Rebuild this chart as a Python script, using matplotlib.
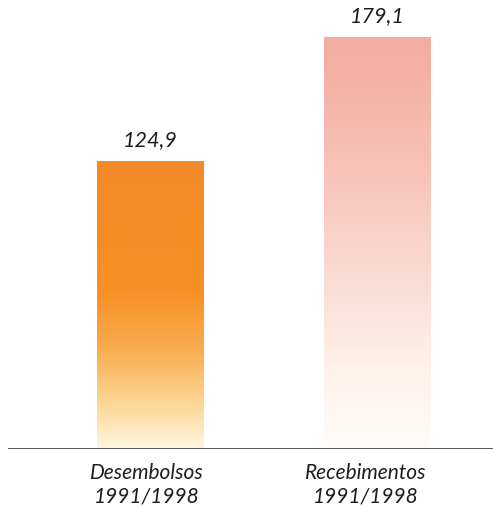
import numpy as np
import matplotlib
matplotlib.use("Agg")
import matplotlib.pyplot as plt
from matplotlib.colors import LinearSegmentedColormap

categories = ["Desembolsos\n1991/1998", "Recebimentos\n1991/1998"]
values = [124.9, 179.1]
value_labels = ["124,9", "179,1"]

# vertical gradient stops (fraction of bar height from the base, colour)
grad_orange = [(0.0, "#FFF6E2"), (0.15, "#FCD898"), (0.35, "#F9AC4E"),
               (0.55, "#F79024"), (1.0, "#F38A28")]
grad_pink = [(0.0, "#FFFCF9"), (0.2, "#FDF1EB"), (0.5, "#F9D3C9"),
             (0.8, "#F6B8AD"), (1.0, "#F4ABA1")]
gradients = [grad_orange, grad_pink]

W, H = 493, 507
fig = plt.figure(figsize=(W / 100, H / 100), dpi=100)
fig.patch.set_facecolor("white")

ax_left, ax_right = 8, 493
ax_bottom, ax_top = 449, 0
ax = fig.add_axes([ax_left / W, (H - ax_bottom) / H,
                   (ax_right - ax_left) / W, (ax_bottom - ax_top) / H])

x = np.arange(len(values))
width = 0.466
ax.set_xlim(-0.624, 1.508)
ax.set_ylim(0, 195.2)

bars = ax.bar(x, values, width=width, color="none", edgecolor="none")
for bar, stops in zip(bars, gradients):
    cmap = LinearSegmentedColormap.from_list("g", stops)
    grad = np.linspace(0, 1, 256).reshape(-1, 1)
    x0, y0 = bar.get_x(), bar.get_y()
    ax.imshow(grad, cmap=cmap, origin="lower", aspect="auto",
              extent=[x0, x0 + bar.get_width(), y0, y0 + bar.get_height()],
              interpolation="bicubic", zorder=1)

ax.set_xlim(-0.624, 1.508)
ax.set_ylim(0, 195.2)

font = dict(family="Lato", style="italic", color="#1e1e1e")
for xi, v, lab in zip(x, values, value_labels):
    ax.annotate(lab, (xi, v), xytext=(0, 8), textcoords="offset points",
                ha="center", va="bottom", fontsize=15.5, **font)

label_shift = [-0.013, -0.05]
for xi, cat, dx in zip(x, categories, label_shift):
    ax.annotate(cat, (xi + dx, 0), xytext=(0, -10), textcoords="offset points",
                ha="center", va="top", fontsize=15, linespacing=1.2, **font)

ax.axhline(0, color="#4a4a4a", lw=1.3, zorder=3)
for s in ax.spines.values():
    s.set_visible(False)
ax.set_xticks([])
ax.set_yticks([])
ax.patch.set_alpha(0)

fig.savefig("out.png", dpi=100, facecolor="white")
